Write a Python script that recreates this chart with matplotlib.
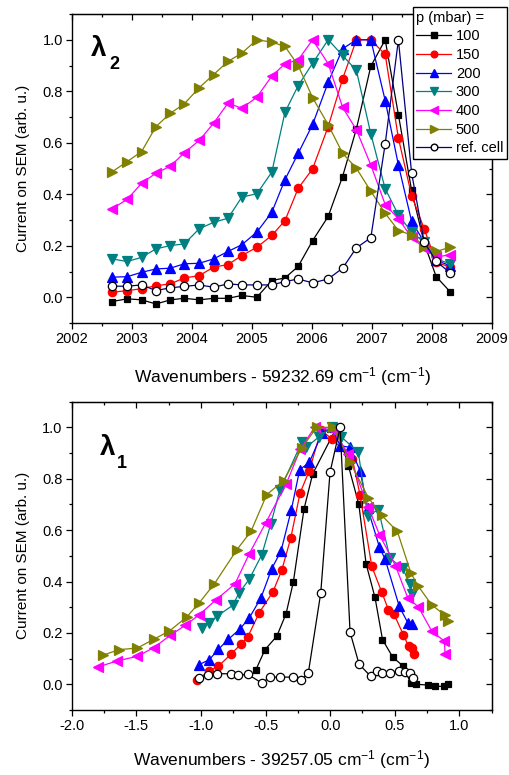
import matplotlib
matplotlib.use("Agg")
import matplotlib.pyplot as plt
from matplotlib.ticker import MultipleLocator, FormatStrFormatter
from matplotlib.lines import Line2D

plt.rcParams['font.family'] = ['Liberation Sans', 'DejaVu Sans']
plt.rcParams['mathtext.default'] = 'regular'
plt.rcParams['axes.unicode_minus'] = False

# ---------------- top panel (lambda 2) ----------------
top_x = [2002.66, 2002.92, 2003.16, 2003.40, 2003.64, 2003.87, 2004.12, 2004.36, 2004.60,
         2004.83, 2005.08, 2005.33, 2005.55, 2005.77, 2006.01, 2006.27, 2006.51, 2006.74,
         2006.98, 2007.22, 2007.44, 2007.66, 2007.87, 2008.07, 2008.30]
top_p100 = [-0.017, -0.006, -0.010, -0.026, -0.010, -0.004, -0.010, -0.004, -0.004, 0.007, 0.0,
            0.065, 0.075, 0.120, 0.220, 0.314, 0.469, 0.654, 0.897, 1.0, 0.709, 0.415, 0.21,
            0.080, 0.022]
top_p150 = [0.019, 0.026, 0.033, 0.045, 0.052, 0.075, 0.084, 0.117, 0.127, 0.162, 0.194, 0.240,
            0.298, 0.423, 0.499, 0.663, 0.848, 1.0, 1.0, 0.943, 0.618, 0.395, 0.266, 0.136, 0.117]
top_p200 = [0.078, 0.080, 0.097, 0.110, 0.113, 0.130, 0.132, 0.149, 0.178, 0.204, 0.253, 0.330,
            0.457, 0.559, 0.671, 0.835, 0.965, 1.0, 1.0, 0.764, 0.514, 0.295, 0.214, 0.143, 0.123]
top_p300 = [0.149, 0.139, 0.155, 0.188, 0.201, 0.207, 0.266, 0.291, 0.307, 0.389, 0.402, 0.486,
            0.719, 0.822, 0.909, 1.0, 0.939, 0.881, 0.635, 0.421, 0.320, 0.253, 0.214, 0.149, 0.130]
top_p400 = [0.343, 0.380, 0.443, 0.482, 0.509, 0.561, 0.609, 0.676, 0.754, 0.734, 0.777, 0.859,
            0.907, 0.922, 1.0, 0.907, 0.738, 0.650, 0.514, 0.360, 0.305, 0.233, 0.192, 0.155, 0.166]
top_p500 = [0.486, 0.527, 0.566, 0.663, 0.715, 0.751, 0.814, 0.865, 0.916, 0.948, 1.0, 0.991,
            0.974, 0.900, 0.775, 0.670, 0.559, 0.501, 0.412, 0.326, 0.259, 0.242, 0.197, 0.178, 0.194]
top_ref = [0.043, 0.043, 0.048, 0.026, 0.037, 0.042, 0.048, 0.039, 0.052, 0.048, 0.048, 0.048,
           0.061, 0.071, 0.056, 0.071, 0.113, 0.192, 0.231, 0.596, 1.0, 0.483, 0.214, 0.140, 0.095]

# ---------------- bottom panel (lambda 1) ----------------
bot_p100_x = [-0.577, -0.504, -0.413, -0.341, -0.285, -0.202, -0.135, 0.05, 0.141, 0.222, 0.278,
              0.347, 0.405, 0.485, 0.567, 0.622, 0.665, 0.76, 0.81, 0.882, 0.912]
bot_p100_y = [0.054, 0.135, 0.187, 0.275, 0.398, 0.683, 0.819, 1.0, 0.851, 0.70, 0.469, 0.338,
              0.174, 0.105, 0.070, 0.006, 0.0, -0.003, -0.008, -0.008, 0.0]
bot_p150_x = [-1.033, -0.935, -0.865, -0.769, -0.692, -0.638, -0.548, -0.444, -0.375, -0.305,
              -0.233, -0.161, -0.07, 0.012, 0.172, 0.231, 0.322, 0.399, 0.451, 0.492, 0.567,
              0.607, 0.635, 0.65]
bot_p150_y = [0.016, 0.052, 0.070, 0.117, 0.155, 0.184, 0.279, 0.359, 0.443, 0.569, 0.744, 0.832,
              0.99, 0.955, 0.877, 0.738, 0.459, 0.359, 0.290, 0.275, 0.192, 0.148, 0.140, 0.117]
bot_p200_x = [-1.012, -0.935, -0.865, -0.788, -0.697, -0.625, -0.535, -0.452, -0.380, -0.30,
              -0.236, -0.161, -0.06, 0.012, 0.077, 0.154, 0.231, 0.29, 0.381, 0.425, 0.535,
              0.60, 0.63]
bot_p200_y = [0.077, 0.096, 0.136, 0.175, 0.216, 0.259, 0.337, 0.450, 0.519, 0.68, 0.835, 0.864,
              0.98, 1.0, 0.929, 0.922, 0.832, 0.686, 0.534, 0.487, 0.303, 0.24, 0.233]
bot_p300_x = [-0.995, -0.935, -0.875, -0.755, -0.705, -0.625, -0.53, -0.46, -0.39, -0.22,
              -0.187, -0.084, 0.012, 0.084, 0.218, 0.29, 0.373, 0.464, 0.56, 0.618, 0.637]
bot_p300_y = [0.22, 0.24, 0.265, 0.307, 0.355, 0.41, 0.503, 0.623, 0.755, 0.942, 0.922, 0.964,
              1.0, 0.964, 0.903, 0.655, 0.68, 0.49, 0.452, 0.39, 0.353]
bot_p400_x = [-1.80, -1.647, -1.492, -1.363, -1.239, -1.123, -1.012, -0.883, -0.736, -0.625,
              -0.50, -0.34, -0.23, -0.12, 0.02, 0.14, 0.296, 0.381, 0.505, 0.60, 0.683, 0.786,
              0.884, 0.889]
bot_p400_y = [0.067, 0.091, 0.109, 0.143, 0.190, 0.229, 0.271, 0.329, 0.391, 0.509, 0.627, 0.780,
              0.916, 1.0, 0.99, 0.897, 0.689, 0.583, 0.462, 0.337, 0.301, 0.207, 0.168, 0.119]
bot_p500_x = [-1.76, -1.632, -1.492, -1.363, -1.245, -1.11, -1.012, -0.896, -0.723, -0.612,
              -0.491, -0.36, -0.22, -0.104, 0.025, 0.155, 0.296, 0.40, 0.52, 0.625, 0.68, 0.786,
              0.89, 0.912]
bot_p500_y = [0.113, 0.135, 0.141, 0.176, 0.207, 0.262, 0.318, 0.391, 0.523, 0.596, 0.738, 0.793,
              0.92, 1.0, 1.0, 0.864, 0.726, 0.657, 0.595, 0.433, 0.383, 0.309, 0.268, 0.248]
bot_ref_x = [-1.012, -0.947, -0.878, -0.767, -0.71, -0.638, -0.529, -0.465, -0.388, -0.29,
             -0.228, -0.169, -0.073, -0.001, 0.077, 0.154, 0.224, 0.314, 0.365, 0.399, 0.464,
             0.536, 0.58, 0.618, 0.639]
bot_ref_y = [0.025, 0.035, 0.041, 0.041, 0.035, 0.039, 0.005, 0.028, 0.028, 0.028, 0.016, 0.044,
             0.355, 0.825, 1.0, 0.203, 0.078, 0.031, 0.052, 0.044, 0.044, 0.052, 0.048, 0.044,
             0.026]

labels = ['100', '150', '200', '300', '400', '500', 'ref. cell']
colors = ['#000000', '#FF0000', '#0000FF', '#008080', '#FF00FF', '#808000', '#000080']
markers = ['s', 'o', '^', 'v', '<', '>', 'o']
msizes = [5, 6, 7, 7, 7, 7, 6]

top_series = [top_p100, top_p150, top_p200, top_p300, top_p400, top_p500, top_ref]
bot_series = [(bot_p100_x, bot_p100_y), (bot_p150_x, bot_p150_y), (bot_p200_x, bot_p200_y),
              (bot_p300_x, bot_p300_y), (bot_p400_x, bot_p400_y), (bot_p500_x, bot_p500_y),
              (bot_ref_x, bot_ref_y)]

fig = plt.figure(figsize=(5.10, 7.75), dpi=100)
ax1 = fig.add_axes([0.1412, 0.5832, 0.8235, 0.3987])
ax2 = fig.add_axes([0.1406, 0.0839, 0.8235, 0.3978])


def style(ax, xmaj, xmin):
    ax.xaxis.set_major_locator(MultipleLocator(xmaj))
    ax.xaxis.set_minor_locator(MultipleLocator(xmin))
    ax.yaxis.set_major_locator(MultipleLocator(0.2))
    ax.yaxis.set_minor_locator(MultipleLocator(0.1))
    ax.yaxis.set_major_formatter(FormatStrFormatter('%.1f'))
    ax.tick_params(which='both', direction='out', labelsize=10.5, width=0.9, pad=2)
    ax.tick_params(which='major', length=4.5)
    ax.tick_params(which='minor', length=2.5)
    for s in ax.spines.values():
        s.set_linewidth(1.0)
    sx = ax.secondary_xaxis('top')
    sx.xaxis.set_major_locator(MultipleLocator(xmaj))
    sx.xaxis.set_minor_locator(MultipleLocator(xmin))
    sx.tick_params(which='both', direction='in', labeltop=False, width=0.9)
    sx.tick_params(which='major', length=4.5)
    sx.tick_params(which='minor', length=2.5)
    sy = ax.secondary_yaxis('right')
    sy.yaxis.set_major_locator(MultipleLocator(0.2))
    sy.yaxis.set_minor_locator(MultipleLocator(0.1))
    sy.tick_params(which='both', direction='in', labelright=False, width=0.9)
    sy.tick_params(which='major', length=4.5)
    sy.tick_params(which='minor', length=2.5)
    ax.set_ylabel('Current on SEM (arb. u.)', fontsize=11)
    ax.yaxis.set_label_coords(-0.10, 0.5)


# top
for i, ys in enumerate(top_series):
    ref = labels[i] == 'ref. cell'
    ax1.plot(top_x, ys, color=colors[i], lw=0.9, marker=markers[i], ms=msizes[i],
             mfc='white' if ref else colors[i], mec='black' if ref else colors[i], mew=0.9,
             label=labels[i])
ax1.set_xlim(2002, 2009)
ax1.set_ylim(-0.1, 1.1)
style(ax1, 1, 0.5)
ax1.set_xticks([2002, 2003, 2004, 2005, 2006, 2007, 2008, 2009])
ax1.xaxis.set_major_formatter(FormatStrFormatter('%d'))
ax1.set_xlabel('Wavenumbers - 59232.69 cm$^{-1}$ (cm$^{-1}$)', fontsize=12.5)
ax1.xaxis.set_label_coords(0.5, -0.135)
ax1.text(0.045, 0.864, 'λ', transform=ax1.transAxes, fontsize=20, fontweight='bold',
         ha='left', va='baseline')
ax1.text(0.090, 0.821, '2', transform=ax1.transAxes, fontsize=13, fontweight='bold',
         ha='left', va='baseline')

# bottom
for i, (xs, ys) in enumerate(bot_series):
    ref = labels[i] == 'ref. cell'
    ax2.plot(xs, ys, color='black' if ref else colors[i], lw=0.9, marker=markers[i],
             ms=msizes[i], mfc='white' if ref else colors[i], mec='black' if ref else colors[i],
             mew=0.9)
ax2.set_xlim(-2.0, 1.25)
ax2.set_ylim(-0.1, 1.1)
style(ax2, 0.5, 0.25)
ax2.xaxis.set_major_formatter(FormatStrFormatter('%.1f'))
ax2.set_xlabel('Wavenumbers - 39257.05 cm$^{-1}$ (cm$^{-1}$)', fontsize=12.5)
ax2.xaxis.set_label_coords(0.5, -0.125)
ax2.text(0.066, 0.827, 'λ', transform=ax2.transAxes, fontsize=20, fontweight='bold',
         ha='left', va='baseline')
ax2.text(0.108, 0.785, '1', transform=ax2.transAxes, fontsize=13, fontweight='bold',
         ha='left', va='baseline')

handles = [Line2D([], [], color=colors[i], lw=0.9, marker=markers[i], ms=msizes[i] * 0.8,
                  mfc='white' if labels[i] == 'ref. cell' else colors[i],
                  mec='black' if labels[i] == 'ref. cell' else colors[i])
           for i in range(len(labels))]
leg = ax1.legend(handles, labels, title='p (mbar) =', loc='upper right',
                 bbox_to_anchor=(0.994, 0.991), bbox_transform=fig.transFigure,
                 borderaxespad=0, fontsize=10.5, title_fontsize=10.5, frameon=True,
                 fancybox=False, edgecolor='black', framealpha=1, handlelength=2.4,
                 handletextpad=0.3, labelspacing=0.32, borderpad=0.25, alignment='left')
leg.get_frame().set_linewidth(1.0)
leg.set_zorder(10)

fig.savefig('out.png', dpi=100)
